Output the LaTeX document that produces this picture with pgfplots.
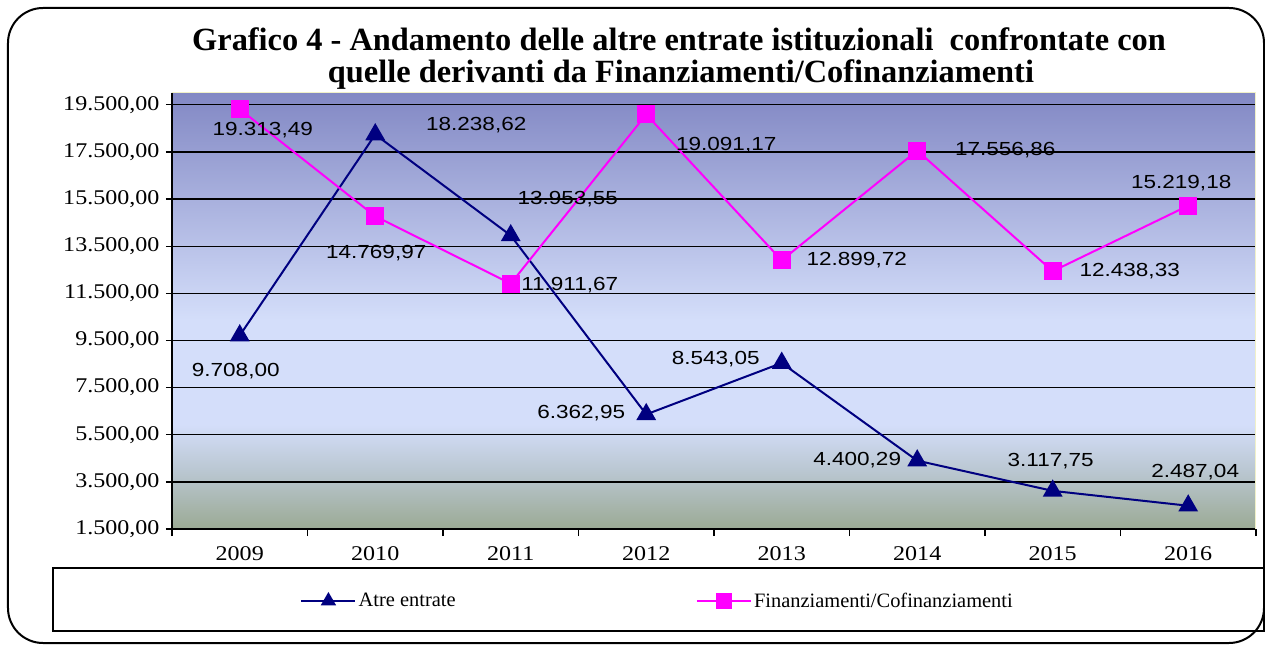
\documentclass[border=0pt]{standalone}
\usepackage{fontspec}
\setmainfont{Liberation Serif}
\newfontfamily\arial[FakeStretch=1.19]{Liberation Sans}
\newfontfamily\tickfont[FakeStretch=1.15]{Liberation Serif}
\usepackage{pgfplots}
\pgfplotsset{compat=1.18}
\definecolor{navyc}{RGB}{0,0,128}
\definecolor{magc}{RGB}{255,0,255}
\definecolor{bgtop}{RGB}{130,136,196}
\definecolor{bgmid}{RGB}{212,222,250}
\definecolor{bgl1}{RGB}{185,198,208}
\definecolor{bgbot}{RGB}{155,170,148}
\definecolor{edgey}{RGB}{240,240,200}
\pgfdeclareverticalshading{plotbg}{100bp}{color(0bp)=(bgbot); color(25bp)=(bgbot); color(31.5bp)=(bgl1); color(37bp)=(bgmid); color(49bp)=(bgmid); color(75bp)=(bgtop); color(100bp)=(bgtop)}

\pgfplotstableread{
x y dx dy lab
0 9708.00 -4 -36 9.708,00
1 18238.62 101 9 18.238,62
2 13953.55 57 36 13.953,55
3 6362.95 -65 1 6.362,95
4 8543.05 -66 4 8.543,05
5 4400.29 -60 1 4.400,29
6 3117.75 -2 30 3.117,75
7 2487.04 7 34 2.487,04
}\atre

\pgfplotstableread{
x y dx dy lab
0 19313.49 23 -21 19.313,49
1 14769.97 1 -37 14.769,97
2 11911.67 59 -1 11.911,67
3 19091.17 80 -31 19.091,17
4 12899.72 75 0 12.899,72
5 17556.86 88 0 17.556,86
6 12438.33 77 0 12.438,33
7 15219.18 -7 23 15.219,18
}\fin

\pgfplotsset{lbls/.style={
  nodes near coords,
  point meta=explicit symbolic,
  visualization depends on={\thisrow{dx} \as \dx},
  visualization depends on={\thisrow{dy} \as \dy},
  every node near coord/.append style={anchor=center, xshift=\dx bp, yshift=\dy bp, font=\arial\fontsize{19}{19}\selectfont, text=black},
}}

\begin{document}
\begin{tikzpicture}
\path (-172bp,-116bp) rectangle (1093bp,529bp);
\draw[line width=2bp, rounded corners=35bp] (-164bp,-114bp) rectangle (1092bp,521bp);
\draw[line width=2bp] (-119bp,-39bp) rectangle (1092bp,-102bp);
\node[font=\bfseries\fontsize{32.5}{32.5}\selectfont, anchor=base] at (507bp,478bp) {Grafico 4 - Andamento delle altre entrate istituzionali\ \ confrontate con};
\node[font=\bfseries\fontsize{32.5}{32.5}\selectfont, anchor=base] at (509bp,446bp) {quelle derivanti da Finanziamenti/Cofinanziamenti};
\begin{axis}[
  at={(0,0)}, anchor=south west,
  scale only axis, width=1084bp, height=436bp,
  xmin=-0.5, xmax=7.5, ymin=1500, ymax=20000,
  xtick={0,...,7}, xticklabels={2009,2010,2011,2012,2013,2014,2015,2016},
  minor xtick={-0.5,0.5,...,7.5},
  ytick={1500,3500,...,19500},
  scaled y ticks=false,
  ymajorgrids, major grid style={black, line width=1.3bp},
  axis lines=left,
  axis line style={black, line width=2bp, -},
  tick align=outside,
  major tick length=6bp,
  minor tick length=7bp,
  major x tick style={draw=none},
  minor x tick style={black, line width=1.5bp},
  ytick style={black, line width=1.3bp},
  yticklabel style={font=\tickfont\fontsize{21}{21}\selectfont, xshift=-3bp, /pgf/number format/.cd, fixed, fixed zerofill, precision=2, use comma, 1000 sep={.}, assume math mode=true},
  xticklabel style={font=\tickfont\fontsize{21}{21}\selectfont, yshift=-8bp},
  axis background/.style={shading=plotbg},
  clip=false,
  legend style={at={(125/1084,-72/436)}, anchor=west, draw=none, fill=none, legend columns=2, font=\fontsize{20.5}{20.5}\selectfont, /tikz/column 2/.style={column sep=238bp}},
  legend image code/.code={\draw[mark repeat=2, mark phase=2, #1, line width=2.5bp, mark size=6.5bp] plot coordinates {(0bp,0bp) (27bp,0bp) (54bp,0bp)};},
]
\draw[edgey, line width=1bp] (rel axis cs:0,1) -- (rel axis cs:1,1) -- (rel axis cs:1,0);
\addplot[navyc, line width=2bp, mark=triangle*, mark size=9.5bp, mark options={solid, fill=navyc}, lbls] table[x=x, y=y, meta=lab] {\atre};
\addlegendentry{Atre entrate}
\addplot[magc, line width=2bp, mark=square*, mark size=8bp, mark options={solid, fill=magc}, lbls] table[x=x, y=y, meta=lab] {\fin};
\addlegendentry{Finanziamenti/Cofinanziamenti}
\end{axis}
\end{tikzpicture}
\end{document}
